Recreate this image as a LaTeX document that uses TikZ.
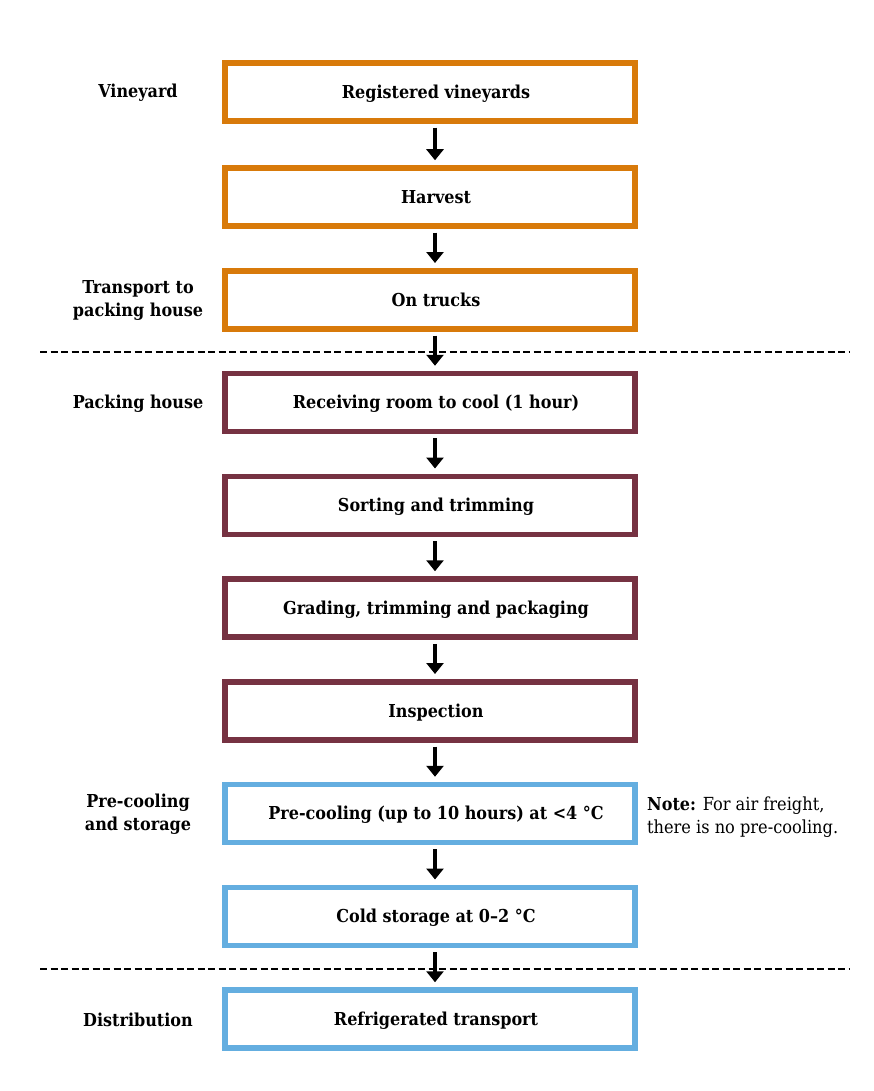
\documentclass[tikz,border=0pt]{standalone}
\usepackage{fontspec}
\setmainfont{DejaVu Serif Condensed}
\usetikzlibrary{arrows.meta}
\definecolor{corange}{RGB}{216,122,10}
\definecolor{cmaroon}{RGB}{118,50,66}
\definecolor{cblue}{RGB}{100,174,224}
\newcommand\myfs{\fontsize{17.8}{23}\selectfont}
\newcommand\mynotefs{\fontsize{18}{23}\selectfont}
\begin{document}
\begin{tikzpicture}[x=1pt,y=-1pt,
 box/.style={draw=#1, line width=5.5pt, minimum width=410pt, minimum height=58pt, inner sep=0pt, text height=12.5pt, text depth=0pt, font=\bfseries\myfs},
 lab/.style={font=\bfseries\myfs, align=center},
 arr/.style={line width=4.8pt, -{Triangle[width=17pt,length=11pt]}, shorten <=4pt, shorten >=5pt},
 sep/.style={dash pattern=on 7pt off 3.5pt, line width=2pt}]
\fill[white] (0,0) rectangle (874,1091);
\useasboundingbox (0,0) rectangle (874,1091);
\node[box=corange] (b1) at (430,92) {\hspace*{12pt}Registered vineyards};
\node[box=corange] (b2) at (430,197) {\hspace*{12pt}Harvest};
\node[box=corange] (b3) at (430,299.75) {\hspace*{12pt}On trucks};
\node[box=cmaroon] (b4) at (430,402.5) {\hspace*{12pt}Receiving room to cool (1 hour)};
\node[box=cmaroon] (b5) at (430,505.25) {\hspace*{12pt}Sorting and trimming};
\node[box=cmaroon] (b6) at (430,608) {\hspace*{12pt}Grading, trimming and packaging};
\node[box=cmaroon] (b7) at (430,710.75) {\hspace*{12pt}Inspection};
\node[box=cblue] (b8) at (430,813.5) {\hspace*{12pt}Pre-cooling (up to 10 hours) at <4 °C};
\node[box=cblue] (b9) at (430,916.25) {\hspace*{12pt}Cold storage at 0–2 °C};
\node[box=cblue] (b10) at (430,1019) {\hspace*{12pt}Refrigerated transport};
\foreach \a/\b in {b1/b2,b2/b3,b3/b4,b4/b5,b5/b6,b6/b7,b7/b8,b8/b9,b9/b10}
  \draw[arr] ([xshift=5pt]\a.south) -- ([xshift=5pt]\b.north);
\node[lab] (l1) at (138,93) {Vineyard};
\node[lab] (l2) at (138,300) {Transport to\\packing house};
\node[lab] (l3) at (138,404) {Packing house};
\node[lab] (l4) at (138,814) {Pre-cooling\\and storage};
\node[lab] (l5) at (138,1020) {Distribution};
\node[font=\mynotefs, align=left, anchor=west, inner sep=0pt] (note) at (647,817.5) {\textbf{\myfs Note:} For air freight,\\there is no pre-cooling.};
\coordinate (d1a) at (40,352); \coordinate (d1b) at (850,352);
\coordinate (d2a) at (40,969); \coordinate (d2b) at (850,969);
\draw[sep] (d1a) -- (d1b);
\draw[sep] (d2a) -- (d2b);
\end{tikzpicture}
\end{document}
